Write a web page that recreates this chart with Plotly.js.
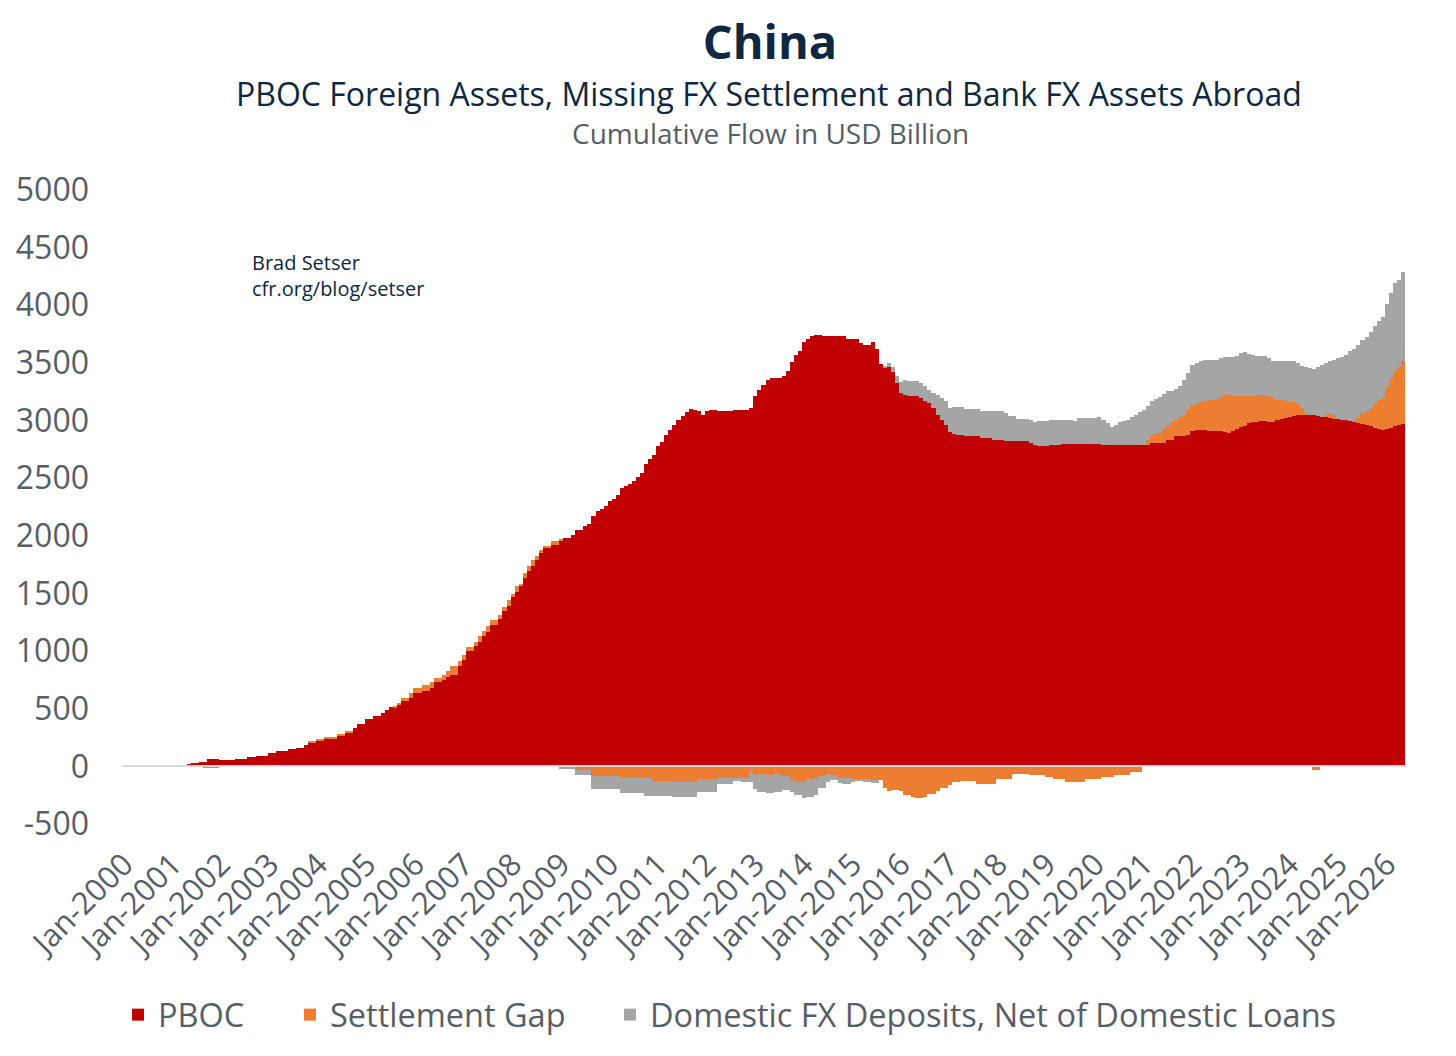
<!DOCTYPE html>
<html>
<head>
<meta charset="utf-8">
<script src="https://cdn.plot.ly/plotly-3.0.1.min.js"></script>
<style>
html,body{margin:0;padding:0;background:#ffffff;}
#chart{width:1456px;height:1056px;}
</style>
</head>
<body>
<div id="chart"></div>
<script>
// ---- category labels (months Jan-2000 .. May-2026) ----
const monthNames = ["Jan","Feb","Mar","Apr","May","Jun","Jul","Aug","Sep","Oct","Nov","Dec"];
const labelYears = [2000,2001,2002,2003,2004,2005,2006,2007,2008,2009,2010,2011,2012,2013,2014,2015,2016,2017,2018,2019,2020,2021,2022,2023,2024,2025,2026];
const xTickLabels = labelYears.map(y => "Jan-" + y);
const yTickValues = [-500,0,500,1000,1500,2000,2500,3000,3500,4000,4500,5000];
const yTickLabels = ["-500","0","500","1000","1500","2000","2500","3000","3500","4000","4500","5000"];

// ---- series values (USD billion, cumulative flow), one row per year ----
const pboc = [
  0,0,0,0,0,0,0,0,0,0,0,0,
  3,8,12,13,18,27,27,36,36,62,62,62,
  51,56,56,56,65,65,65,77,77,91,91,91,
  114,114,135,135,135,149,149,163,163,187,210,210,
  221,221,239,239,239,265,265,288,288,331,369,369,
  409,409,433,433,462,490,514,514,540,563,563,592,
  635,635,658,658,679,728,728,751,774,794,794,867,
  925,997,997,1040,1083,1127,1162,1223,1223,1278,1344,1393,
  1469,1509,1567,1634,1692,1735,1790,1850,1891,1891,1923,1923,
  1957,1980,1980,2009,2053,2053,2082,2105,2174,2212,2232,2261,
  2299,2319,2357,2415,2429,2452,2472,2510,2545,2626,2666,2704,
  2776,2811,2872,2921,2964,3002,3043,3071,3100,3089,3080,3051,
  3080,3089,3095,3086,3086,3086,3086,3089,3089,3089,3089,3109,
  3216,3262,3309,3349,3367,3367,3367,3384,3427,3506,3572,3601,
  3679,3708,3731,3746,3746,3737,3737,3737,3737,3737,3737,3711,
  3711,3711,3673,3659,3659,3679,3624,3494,3457,3465,3419,3326,
  3240,3225,3211,3211,3211,3196,3167,3153,3109,3051,3008,2965,
  2898,2887,2878,2878,2863,2863,2863,2863,2849,2849,2849,2834,
  2834,2829,2826,2820,2820,2820,2820,2820,2805,2785,2782,2782,
  2782,2788,2788,2788,2794,2794,2794,2797,2797,2797,2797,2797,
  2797,2797,2790,2790,2790,2788,2788,2788,2787,2787,2785,2785,
  2785,2785,2805,2805,2805,2805,2834,2834,2869,2869,2869,2877,
  2906,2915,2921,2921,2906,2906,2906,2906,2897,2892,2906,2926,
  2944,2955,2979,2984,2990,2993,2993,2990,2988,3008,3015,3022,
  3031,3037,3046,3051,3051,3046,3046,3037,3031,3028,3022,3014,
  3014,3008,3002,2996,2990,2979,2973,2962,2950,2936,2927,2921,
  2927,2936,2950,2959,2973
];
const settlementGap = [
  0,0,0,0,0,0,0,0,0,0,0,0,
  0,0,0,0,-5,-5,-5,0,-14,-14,-14,-14,
  0,0,0,0,0,0,0,0,0,0,0,0,
  0,0,0,0,0,0,0,0,0,-5,11,11,
  18,18,20,20,20,17,17,20,20,0,-5,-5,
  0,0,0,0,0,0,0,14,14,29,29,43,
  44,44,44,44,49,38,38,43,49,73,73,43,
  37,35,35,35,44,44,52,48,48,38,38,52,
  28,58,14,43,43,52,32,29,23,23,29,29,
  9,0,0,0,-34,-34,-34,-34,-83,-83,-83,-83,
  -83,-83,-83,-100,-100,-100,-100,-100,-100,-100,-100,-129,
  -129,-129,-129,-129,-135,-135,-135,-135,-135,-135,-112,-112,
  -112,-112,-112,-100,-100,-100,-100,-100,-100,-100,-100,-43,
  -72,-68,-68,-74,-74,-68,-68,-80,-80,-117,-137,-137,
  -137,-109,-109,-97,-80,-80,-68,-74,-74,-97,-103,-103,
  -109,-117,-117,-117,-117,-117,-117,-117,-190,-218,-204,-204,
  -218,-247,-247,-262,-271,-271,-262,-242,-242,-218,-190,-190,
  -161,-132,-132,-129,-129,-129,-129,-149,-149,-149,-149,-149,
  -112,-112,-112,-112,-63,-63,-63,-63,-78,-78,-78,-78,
  -92,-92,-106,-106,-106,-135,-135,-135,-135,-135,-112,-112,
  -112,-112,-92,-92,-92,-72,-72,-72,-72,-49,-49,-49,
  0,49,66,87,87,121,121,150,138,162,182,211,
  232,237,246,251,275,275,281,298,336,332,304,290,
  272,261,231,232,235,232,232,226,208,174,160,145,
  130,121,101,58,15,0,-30,-35,0,20,44,37,
  0,0,0,0,10,43,93,118,150,211,255,275,
  365,434,477,506,541
];
const domesticFx = [
  0,0,0,0,0,0,0,0,0,0,0,0,
  0,0,0,0,0,0,0,0,0,0,0,0,
  0,0,0,0,0,0,0,0,0,0,0,0,
  0,0,0,0,0,0,0,0,0,0,0,0,
  0,0,0,0,0,0,0,0,0,0,0,0,
  0,0,0,0,0,0,0,0,0,0,0,0,
  0,0,0,0,0,0,0,0,0,0,0,0,
  0,0,0,0,0,0,0,0,0,0,0,0,
  0,0,0,0,0,0,0,0,0,0,0,0,
  -26,-26,-26,-26,-44,-44,-44,-44,-109,-109,-109,-109,
  -109,-109,-109,-135,-135,-135,-135,-135,-135,-155,-155,-126,
  -126,-126,-126,-126,-129,-129,-129,-129,-129,-129,-109,-109,
  -109,-109,-109,-49,-49,-49,-49,-29,-29,-35,-35,-92,
  -120,-156,-156,-159,-159,-156,-156,-124,-124,-107,-110,-110,
  -139,-153,-153,-150,-110,-110,-64,-43,-43,-49,-52,-52,
  -23,-9,-9,-15,-15,-29,-29,0,20,35,46,58,
  92,125,130,130,130,130,130,116,131,174,188,202,
  211,228,240,240,238,238,238,238,231,231,231,246,
  246,251,240,217,217,197,197,197,197,206,212,212,
  212,220,220,220,208,208,208,197,223,223,223,223,
  223,234,217,185,154,174,196,211,220,244,266,286,
  310,289,296,295,312,307,298,269,267,272,298,325,
  347,347,347,351,342,342,341,339,318,327,341,347,
  370,376,370,356,339,338,333,327,318,332,339,347,
  353,356,353,362,396,410,402,428,454,452,448,478,
  529,542,570,605,621,637,636,646,666,671,680,703,
  723,738,762,753,773
];

const months = [];
labelYears.forEach(y => monthNames.forEach(m => months.push(m + "-" + y)));
const categories = months.slice(0, pboc.length);

const FONT = "'Open Sans', 'Noto Sans', sans-serif";
const NAVY = "#0E2841";
const GREY_TXT = "#575E66";

// plot area in pixels: x 122..1405, y 190..824
const PX_L = 122, PX_W = 1283, PX_B = 824, PX_H = 634;
const px2x = px => (px - PX_L) / PX_W;
const px2y = py => (PX_B - py) / PX_H;

const traces = [
  {type:"bar", name:"PBOC", x:categories, y:pboc, legend:"legend",
   marker:{color:"#C00000", line:{width:0}}, hoverinfo:"x+y+name"},
  {type:"bar", name:"Settlement Gap", x:categories, y:settlementGap, legend:"legend2",
   marker:{color:"#ED7D31", line:{width:0}}, hoverinfo:"x+y+name"},
  {type:"bar", name:"Domestic FX Deposits, Net of Domestic Loans", x:categories, y:domesticFx, legend:"legend3",
   marker:{color:"#A5A5A5", line:{width:0}}, hoverinfo:"x+y+name"}
];

const legendBase = {orientation:"h", xanchor:"left", yanchor:"middle", y:px2y(1015),
  bgcolor:"rgba(0,0,0,0)", borderwidth:0,
  font:{family:FONT, size:32.5, color:GREY_TXT}, itemclick:false, itemdoubleclick:false};

const layout = {
  width:1456, height:1056,
  paper_bgcolor:"#ffffff", plot_bgcolor:"#ffffff",
  font:{family:FONT, color:GREY_TXT},
  barmode:"relative", bargap:0,
  margin:{l:122, r:51, t:190, b:232, pad:0},
  title:{text:"<b>China</b>", x:770/1456, xref:"container", xanchor:"center",
         y:1-43/1056, yref:"container", yanchor:"middle",
         font:{family:FONT, size:47, color:NAVY}},
  xaxis:{type:"category", range:[-0.5, categories.length-0.5],
         tickmode:"array", tickvals:xTickLabels, ticktext:xTickLabels,
         tickangle:-45, tickfont:{family:FONT, size:31, color:GREY_TXT},
         ticks:"", ticklabelstandoff:15,
         showgrid:false, zeroline:false, showline:false, fixedrange:true},
  yaxis:{range:[-500,5000], tickmode:"array", tickvals:yTickValues, ticktext:yTickLabels,
         tickfont:{family:FONT, size:32, color:GREY_TXT},
         ticks:"", ticklabelstandoff:32,
         showgrid:false, showline:false,
         zeroline:true, zerolinecolor:"#D9D9D9", zerolinewidth:1.5,
         layer:"above traces", zerolinelayer:"above traces", fixedrange:true},
  showlegend:true,
  legend:Object.assign({}, legendBase, {x:px2x(118)}),
  legend2:Object.assign({}, legendBase, {x:px2x(290)}),
  legend3:Object.assign({}, legendBase, {x:px2x(610)}),
  annotations:[
    {text:"PBOC Foreign Assets, Missing FX Settlement and Bank FX Assets Abroad",
     xref:"paper", yref:"paper", x:px2x(769), y:px2y(93),
     xanchor:"center", yanchor:"middle", showarrow:false,
     font:{family:FONT, size:32, color:NAVY}},
    {text:"Cumulative Flow in USD Billion",
     xref:"paper", yref:"paper", x:px2x(770), y:px2y(133),
     xanchor:"center", yanchor:"middle", showarrow:false,
     font:{family:FONT, size:28, color:GREY_TXT}},
    {text:"Brad Setser",
     xref:"paper", yref:"paper", x:px2x(250), y:px2y(262),
     xanchor:"left", yanchor:"middle", showarrow:false,
     font:{family:FONT, size:20, color:NAVY}},
    {text:"cfr.org/blog/setser",
     xref:"paper", yref:"paper", x:px2x(250), y:px2y(288),
     xanchor:"left", yanchor:"middle", showarrow:false,
     font:{family:FONT, size:20, color:NAVY}}
  ]
};

Plotly.newPlot("chart", traces, layout, {displayModeBar:false});
</script>
</body>
</html>
